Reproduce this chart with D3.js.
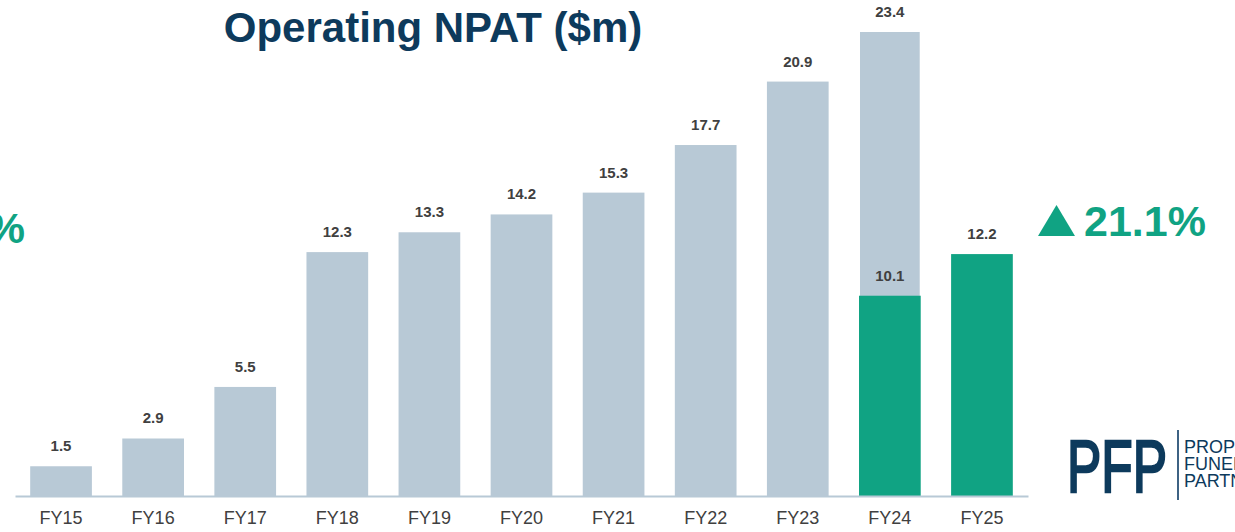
<!DOCTYPE html>
<meta charset="utf-8">
<html>
  <style>
    body { margin: 0; background: #fff; }
    text { font-family: "Liberation Sans", Arial, sans-serif; }
    .bar-label { font-size: 15px; font-weight: bold; fill: #404040; }
    .axis text { font-size: 18px; fill: #404040; }
  </style>
  <head>
    <script src="https://d3js.org/d3.v7.min.js"></script>
  </head>
  <body>
    <script>
      // chart data
      var years = ["FY15", "FY16", "FY17", "FY18", "FY19", "FY20", "FY21", "FY22", "FY23", "FY24", "FY25"];
      // full year operating NPAT (grey)
      var fullYear = [1.5, 2.9, 5.5, 12.3, 13.3, 14.2, 15.3, 17.7, 20.9, 23.4, null];
      // first half operating NPAT (green)
      var halfYear = [null, null, null, null, null, null, null, null, null, 10.1, 12.2];
      var growthText = "21.1%";
      var logoLines = ["PROPER", "FUNERAL", "PARTNERS"];

      var width = 1235, height = 532;
      var grey = "#b8c9d6", green = "#10a383", navy = "#0d3a5c";

      var svg = d3.select("body").append("svg")
          .attr("width", width)
          .attr("height", height);

      // scales
      var x = d3.scaleBand().domain(years).range([15, 1028])
          .paddingInner(0.33).paddingOuter(0.165);
      var y = d3.scaleLinear().domain([0, d3.max(fullYear)]).range([496, 32]);

      var rows = years.map(function(d, i) { return {year: d, full: fullYear[i], half: halfYear[i]}; });

      // grey bars (full year)
      svg.selectAll(".full").data(rows.filter(function(d) { return d.full != null; }))
        .enter().append("rect")
          .attr("class", "full")
          .attr("x", function(d) { return x(d.year) + (d.half != null ? 1 : 0); })
          .attr("width", function(d) { return x.bandwidth() - (d.half != null ? 2 : 0); })
          .attr("y", function(d) { return y(d.full); })
          .attr("height", function(d) { return y(0) - y(d.full); })
          .attr("fill", grey);

      // green bars (first half)
      svg.selectAll(".half").data(rows.filter(function(d) { return d.half != null; }))
        .enter().append("rect")
          .attr("class", "half")
          .attr("x", function(d) { return x(d.year); })
          .attr("width", x.bandwidth())
          .attr("y", function(d) { return y(d.half); })
          .attr("height", function(d) { return y(0) - y(d.half); })
          .attr("fill", green);

      // value labels
      var labels = [];
      rows.forEach(function(d) {
        if (d.full != null) labels.push({year: d.year, v: d.full});
        if (d.half != null) labels.push({year: d.year, v: d.half});
      });
      svg.selectAll(".bar-label").data(labels)
        .enter().append("text")
          .attr("class", "bar-label")
          .attr("text-anchor", "middle")
          .attr("x", function(d) { return x(d.year) + x.bandwidth() / 2; })
          .attr("y", function(d) { return y(d.v) - 15; })
          .text(function(d) { return d.v.toFixed(1); });

      // x axis
      var axis = svg.append("g").attr("class", "axis")
          .attr("transform", "translate(0," + y(0) + ")")
          .call(d3.axisBottom(x).tickSize(0).tickSizeOuter(0).tickPadding(15));
      axis.select(".domain").attr("stroke", grey).attr("stroke-width", 2);

      // title
      svg.append("text")
          .attr("x", 433).attr("y", 42)
          .attr("text-anchor", "middle")
          .style("font-size", "42px").style("font-weight", "bold")
          .attr("fill", navy)
          .text("Operating NPAT ($m)");

      // growth annotation
      svg.append("path")
          .attr("d", "M1038,236 L1056.5,205 L1075,236 Z")
          .attr("fill", green);
      svg.append("text")
          .attr("x", 1084).attr("y", 236)
          .style("font-size", "43px").style("font-weight", "bold")
          .attr("fill", green)
          .text(growthText);

      // cut off annotation on the left edge
      svg.append("text")
          .attr("x", 25).attr("y", 243)
          .attr("text-anchor", "end")
          .style("font-size", "43px").style("font-weight", "bold")
          .attr("fill", green)
          .text("%");

      // logo
      svg.append("text")
          .attr("x", 1067).attr("y", 492)
          .attr("textLength", 100).attr("lengthAdjust", "spacingAndGlyphs")
          .style("font-size", "75px")
          .attr("fill", navy)
          .attr("stroke", navy).attr("stroke-width", 2.5)
          .text("PFP");
      svg.append("line")
          .attr("x1", 1178).attr("x2", 1178).attr("y1", 430).attr("y2", 500)
          .attr("stroke", "#3d6283").attr("stroke-width", 2);
      svg.selectAll(".logo-line").data(logoLines)
        .enter().append("text")
          .attr("class", "logo-line")
          .attr("x", 1184)
          .attr("y", function(d, i) { return 453 + i * 17; })
          .style("font-size", "18px")
          .attr("fill", navy)
          .text(function(d) { return d; });
    </script>
  </body>
</html>
